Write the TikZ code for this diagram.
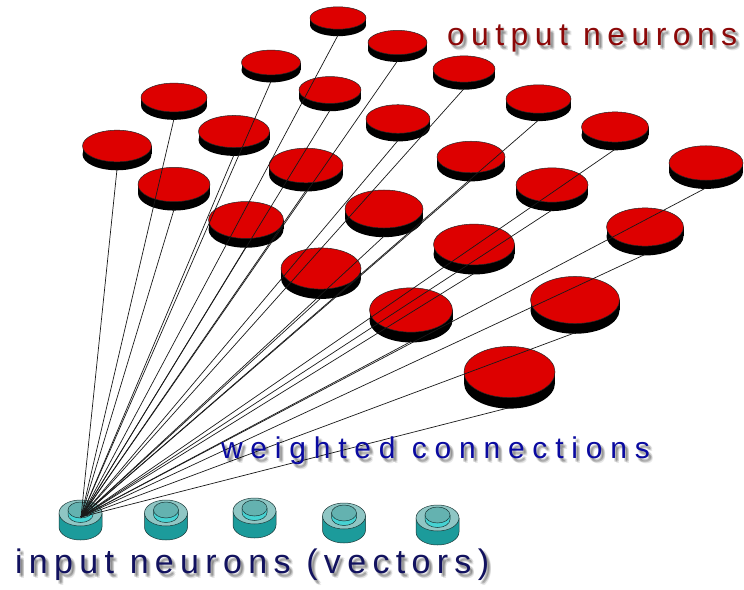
\documentclass[tikz,border=0pt]{standalone}
\usepackage{fontspec}
\setmainfont{Liberation Sans}
\newfontfamily\outfont[LetterSpace=20]{Liberation Sans}
\newfontfamily\wfont[LetterSpace=26]{Liberation Sans}
\newfontfamily\infont[LetterSpace=18.6]{Liberation Sans}
\definecolor{discred}{RGB}{221,0,0}
\definecolor{outred}{RGB}{140,8,8}
\definecolor{wblue}{RGB}{10,10,160}
\definecolor{innavy}{RGB}{18,18,95}
\definecolor{tealside}{RGB}{28,155,155}
\definecolor{ringtop}{RGB}{143,198,196}
\definecolor{innertop}{RGB}{100,178,176}
\definecolor{innerside}{RGB}{70,210,210}
\definecolor{tealline}{RGB}{25,55,55}
\tikzset{
  txt/.style={anchor=base west, inner sep=0pt, outer sep=0pt},
  wire/.style={draw=black!90, line width=0.7pt},
  discedge/.style={draw=black!85, line width=0.5pt},
  tealedge/.style={draw=tealline, line width=0.5pt}
}
\newcommand\ShadowedText[6]{% name, x, y, colour, font, text
  \foreach \sdx/\sdy/\sid in {2/3/a,3/4/b,4/3/c,3/2/d,4/5/e,2/4/f}{
    \node[txt, text=black, opacity=0.09] (#1sh\sid) at (#2+\sdx,#3+\sdy) {#5#6};
  }
  \node[txt, text=#4] (#1) at (#2,#3) {#5#6};
}
\begin{document}
\begin{tikzpicture}[x=1pt,y=-1pt,line join=round]
\useasboundingbox (0,0) rectangle (744,589);
\fill[white] (0,0) rectangle (744,589);

% input neurons
\foreach \nm/\nx/\ny in {in1/80.5/513, in2/166/513, in3/254.5/511, in4/344/516, in5/437.5/518}{
  \path[fill=tealside, tealedge] (\nx-21.5,\ny) -- ++(0,14)
     arc[start angle=180, end angle=360, x radius=21.5pt, y radius=13pt] -- ++(0,-14) -- cycle;
  \path[fill=ringtop, tealedge] (\nx,\ny) ellipse [x radius=21.5pt, y radius=13pt];
  \path[fill=innerside, tealedge] (\nx-12.5,\ny-3) -- ++(0,4.5)
     arc[start angle=180, end angle=360, x radius=12.5pt, y radius=8pt] -- ++(0,-4.5) -- cycle;
  \path[fill=innertop, tealedge] (\nx,\ny-3) ellipse [x radius=12.5pt, y radius=8pt];
  \coordinate (\nm) at (\nx,\ny);
}
\coordinate (hub) at (81,517);

% output discs (far to near)
\foreach \nm/\cx/\cy/\rx in {
  A1/338/18/28, A2/397.5/42.5/29.5, B1/271/62.5/29.5, A3/464/69/31,
  B2/330/90/31, C1/174/97.5/33, A4/538.5/99/32.5, B3/398/119/32,
  A5/615/127/33.5, C2/234/131.5/35.5, D1/117/146/34.5, B4/471/157/34,
  A6/706/163/37, C3/306/165.5/37, D2/174/184.5/36, B5/552/185/36,
  C4/384/209/39, D3/246/220/37.5, B6/645/227/38.5, C5/474/244.5/40.5,
  D4/321/268.5/40, C6/575/300/44.5, D5/411/310/41.5, D6/509.5/372/45.5}{
  \pgfmathsetmacro\dk{0.40+0.16*(\cy-18)/350}
  \pgfmathsetmacro\dry{\rx*\dk}
  \pgfmathsetmacro\dth{7+4*(\cy-18)/350}
  \fill[black] (\cx-\rx,\cy) rectangle (\cx+\rx,\cy+\dth);
  \fill[black] (\cx,\cy+\dth) ellipse [x radius=\rx pt, y radius=\dry pt];
  \path[fill=discred, discedge] (\cx,\cy) ellipse [x radius=\rx pt, y radius=\dry pt];
  \coordinate (\nm) at (\cx,\cy+\dry+\dth-1);
}

% weighted connections
\foreach \nm in {A1,A2,A3,A4,A5,A6,B1,B2,B3,B4,B5,B6,C1,C2,C3,C4,C5,C6,D1,D2,D3,D4,D5,D6}{
  \draw[wire] (hub) -- (\nm);
}

% labels (with soft shadow)
\ShadowedText{outlbl}{447}{45}{outred}{\outfont\fontsize{32}{32}\selectfont}{output neurons}
\ShadowedText{wlbl}{221}{458}{wblue}{\wfont\fontsize{30}{30}\selectfont}{weighted connections}
\ShadowedText{inlbl}{15}{573}{innavy}{\infont\fontsize{34}{34}\selectfont}{input neurons (vectors)}
\end{tikzpicture}
\end{document}
